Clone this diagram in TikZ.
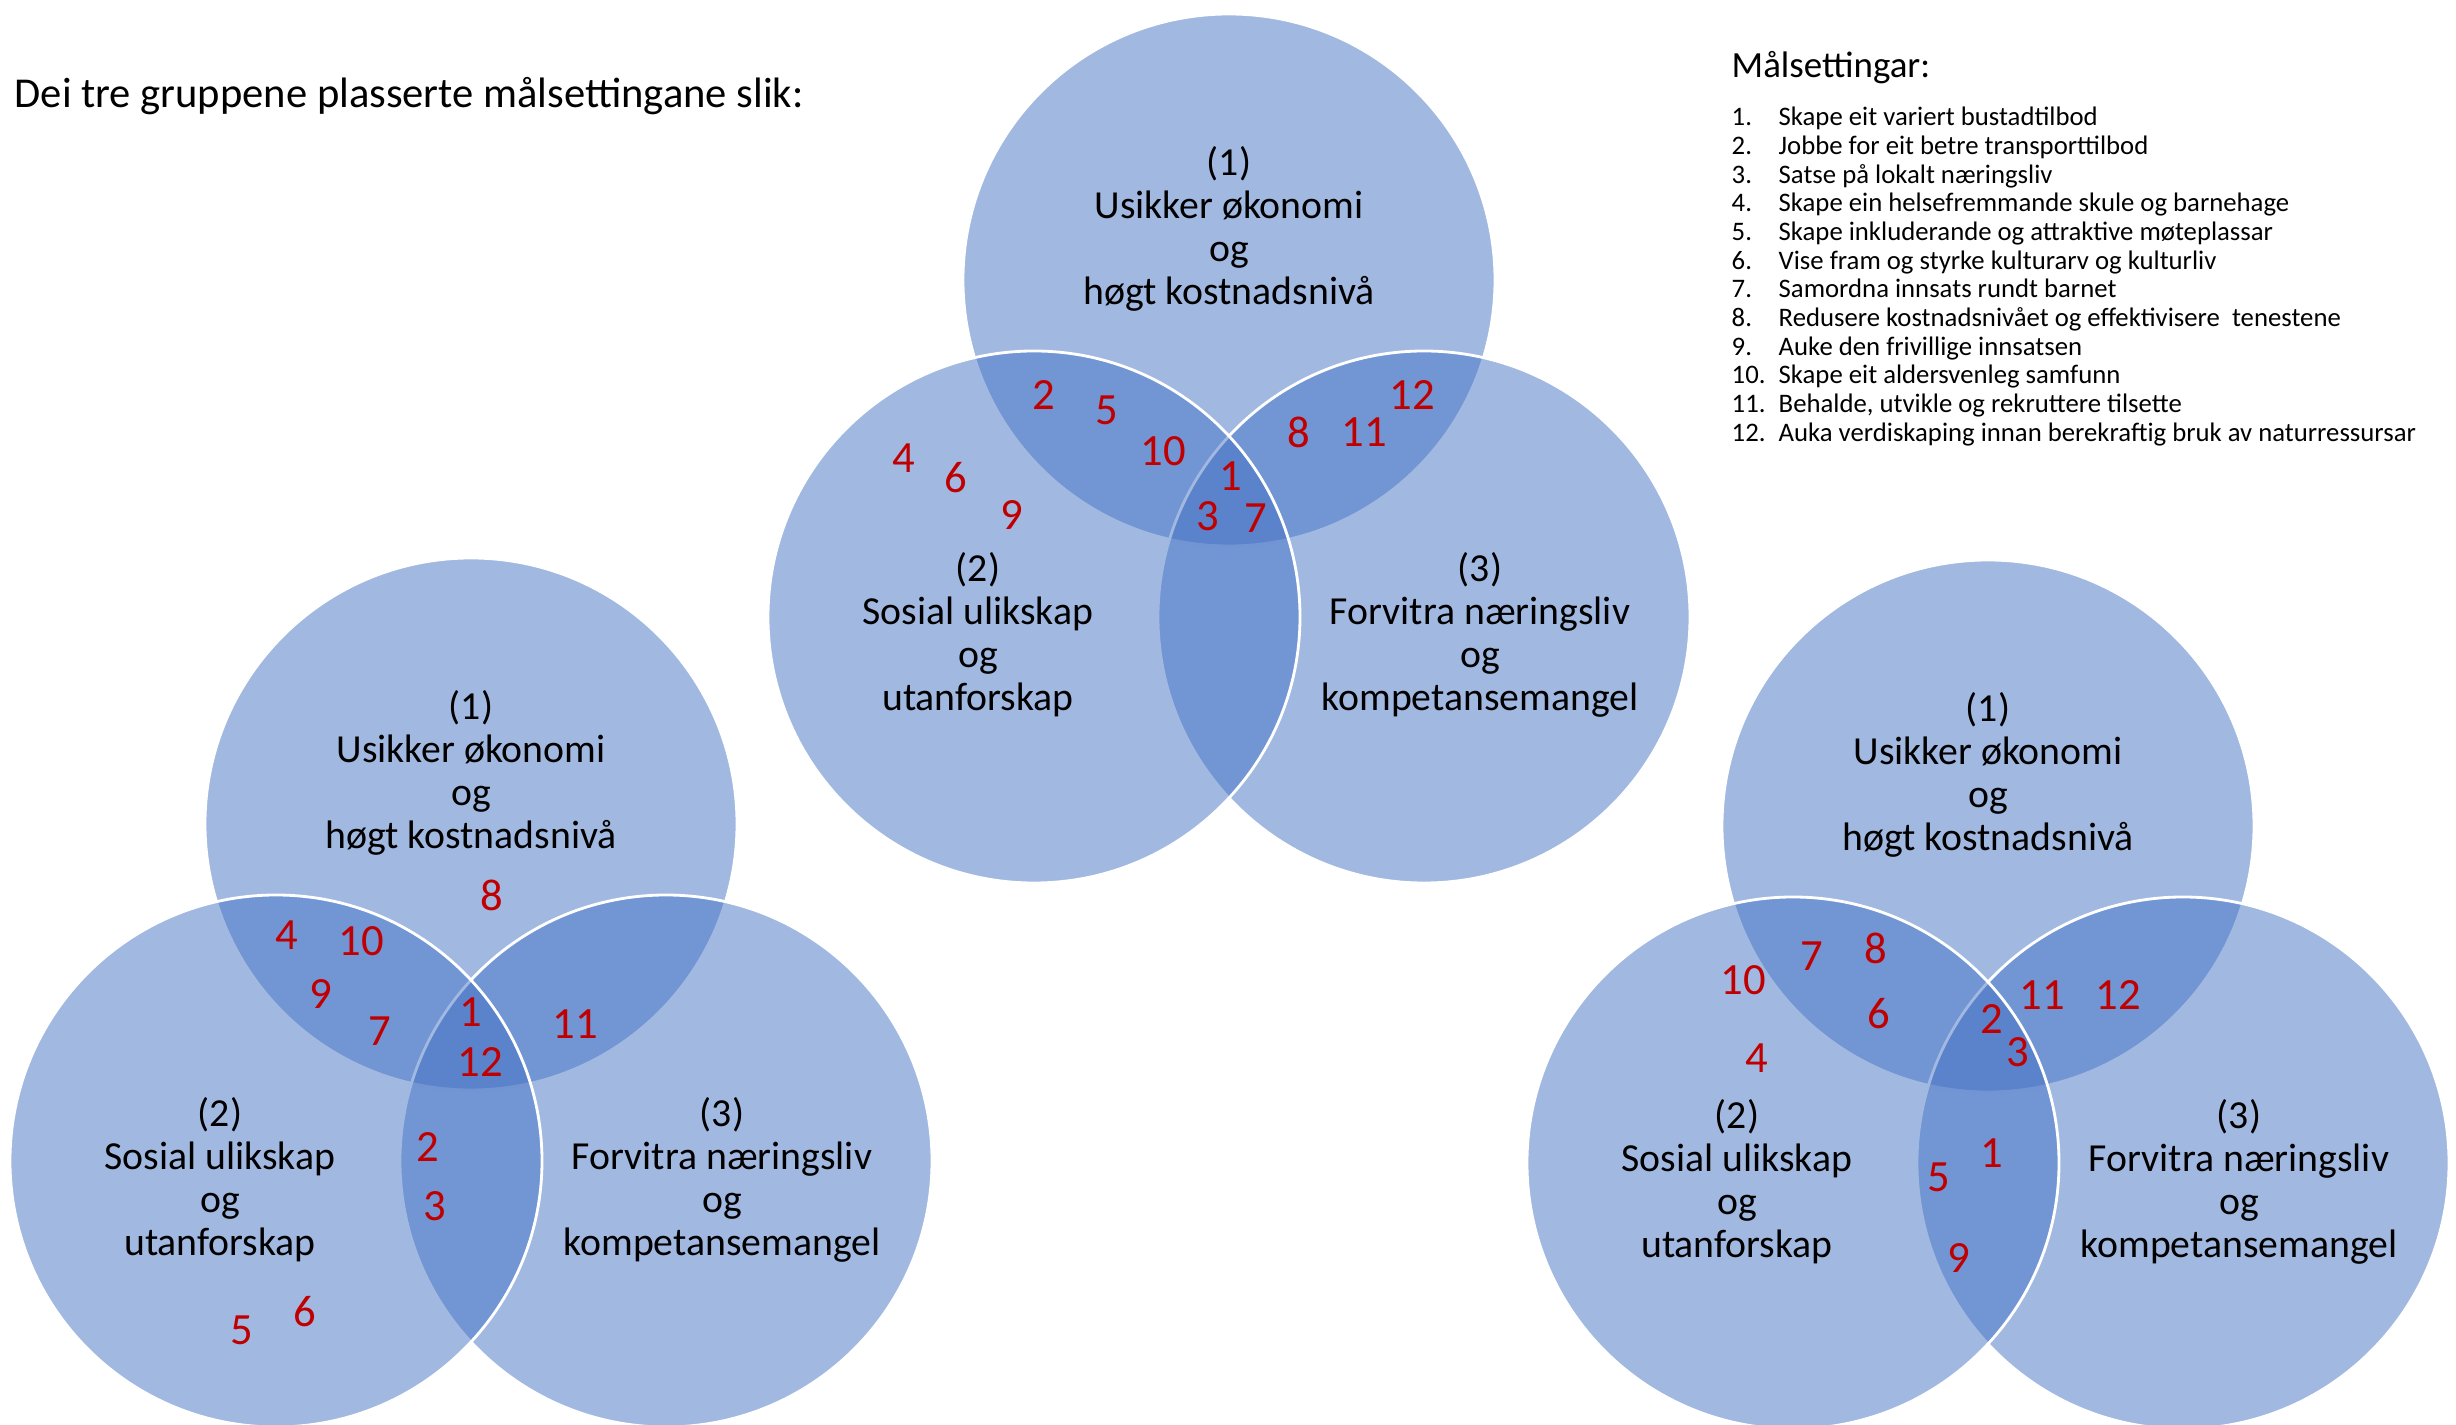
\documentclass[tikz,border=0pt]{standalone}
\usepackage{fontspec}
\setmainfont{Carlito}
\definecolor{vblue}{HTML}{4472C4}
\definecolor{numred}{HTML}{C00000}
\tikzset{
  venn/.style={fill=vblue, fill opacity=0.5, draw=white, line width=0.8pt},
  lab/.style={align=center, font=\fontsize{11.3}{12.2}\selectfont, inner sep=0pt},
  num/.style={text=numred, font=\fontsize{12.7}{14}\selectfont, inner sep=0pt},
  itemtxt/.style={anchor=base west, font=\fontsize{7.6}{8}\selectfont, inner sep=0pt}
}
\begin{document}
\begin{tikzpicture}[x=0.01cm,y=-0.01cm]
\useasboundingbox (0,0) rectangle (2456,1425);
\clip (0,0) rectangle (2456,1425);

% ---------- top Venn ----------
\draw[venn] (1229,280) circle[radius=266];
\draw[venn] (1424,617) circle[radius=266];
\draw[venn] (1034,617) circle[radius=266];
% ---------- bottom-left Venn ----------
\draw[venn] (471,824) circle[radius=266];
\draw[venn] (666,1161) circle[radius=266];
\draw[venn] (276,1161) circle[radius=266];
% ---------- bottom-right Venn ----------
\draw[venn] (1988,826) circle[radius=266];
\draw[venn] (2183,1163) circle[radius=266];
\draw[venn] (1793,1163) circle[radius=266];

% title and legend
\node[anchor=base west, font=\fontsize{12.1}{14}\selectfont, inner sep=0pt] (title) at (14,108) {Dei tre gruppene plasserte målsettingane slik:};
\node[anchor=base west, font=\fontsize{10.5}{12}\selectfont, inner sep=0pt] (head) at (1731,78) {Målsettingar:};

\node[itemtxt] (n1) at (1731,126) {1.};
\node[itemtxt] (t1) at (1778,126) {Skape eit variert bustadtilbod};
\node[itemtxt] (n2) at (1731,154.7) {2.};
\node[itemtxt] (t2) at (1778,154.7) {Jobbe for eit betre transporttilbod};
\node[itemtxt] (n3) at (1731,183.3) {3.};
\node[itemtxt] (t3) at (1778,183.3) {Satse på lokalt næringsliv};
\node[itemtxt] (n4) at (1731,212) {4.};
\node[itemtxt] (t4) at (1778,212) {Skape ein helsefremmande skule og barnehage};
\node[itemtxt] (n5) at (1731,240.7) {5.};
\node[itemtxt] (t5) at (1778,240.7) {Skape inkluderande og attraktive møteplassar};
\node[itemtxt] (n6) at (1731,269.3) {6.};
\node[itemtxt] (t6) at (1778,269.3) {Vise fram og styrke kulturarv og kulturliv};
\node[itemtxt] (n7) at (1731,298) {7.};
\node[itemtxt] (t7) at (1778,298) {Samordna innsats rundt barnet};
\node[itemtxt] (n8) at (1731,326.7) {8.};
\node[itemtxt] (t8) at (1778,326.7) {Redusere kostnadsnivået og effektivisere~ tenestene};
\node[itemtxt] (n9) at (1731,355.3) {9.};
\node[itemtxt] (t9) at (1778,355.3) {Auke den frivillige innsatsen};
\node[itemtxt] (n10) at (1731,384) {10.};
\node[itemtxt] (t10) at (1778,384) {Skape eit aldersvenleg samfunn};
\node[itemtxt] (n11) at (1731,412.7) {11.};
\node[itemtxt] (t11) at (1778,412.7) {Behalde, utvikle og rekruttere tilsette};
\node[itemtxt] (n12) at (1731,441.4) {12.};
\node[itemtxt] (t12) at (1778,441.4) {Auka verdiskaping innan berekraftig bruk av naturressursar};

% ---------- labels: top Venn ----------
\node[lab] (ta) at (1229,229) {(1)\\Usikker økonomi\\og\\høgt kostnadsnivå};
\node[lab] (tb) at (978,635) {(2)\\Sosial ulikskap\\og\\utanforskap};
\node[lab] (tc) at (1480,635) {(3)\\Forvitra næringsliv\\og\\kompetansemangel};
% ---------- labels: bottom-left ----------
\node[lab] (la) at (471,773) {(1)\\Usikker økonomi\\og\\høgt kostnadsnivå};
\node[lab] (lb) at (220,1180) {(2)\\Sosial ulikskap\\og\\utanforskap};
\node[lab] (lc) at (722,1180) {(3)\\Forvitra næringsliv\\og\\kompetansemangel};
% ---------- labels: bottom-right ----------
\node[lab] (ra) at (1988,775) {(1)\\Usikker økonomi\\og\\høgt kostnadsnivå};
\node[lab] (rb) at (1737,1182) {(2)\\Sosial ulikskap\\og\\utanforskap};
\node[lab] (rc) at (2239,1182) {(3)\\Forvitra næringsliv\\og\\kompetansemangel};

% ---------- numbers: top Venn ----------
\node[num] (tn2) at (1044,395) {2};
\node[num] (tn5) at (1107,410) {5};
\node[num] (tn10) at (1163,451) {10};
\node[num] (tn4) at (904,458) {4};
\node[num] (tn6) at (956,478) {6};
\node[num] (tn9) at (1012,515) {9};
\node[num] (tn1) at (1231,476) {1};
\node[num] (tn3) at (1208,516) {3};
\node[num] (tn7) at (1256,518) {7};
\node[num] (tn8) at (1299,432) {8};
\node[num] (tn11) at (1364,432) {11};
\node[num] (tn12) at (1412,395) {12};
% ---------- numbers: bottom-left ----------
\node[num] (ln8) at (492,895) {8};
\node[num] (ln4) at (287,935) {4};
\node[num] (ln10) at (361,941) {10};
\node[num] (ln9) at (321,994) {9};
\node[num] (ln7) at (380,1031) {7};
\node[num] (ln1) at (471,1012) {1};
\node[num] (ln12) at (480,1062) {12};
\node[num] (ln11) at (575,1024) {11};
\node[num] (ln2) at (428,1147) {2};
\node[num] (ln3) at (435,1206) {3};
\node[num] (ln5) at (242,1330) {5};
\node[num] (ln6) at (305,1312) {6};
% ---------- numbers: bottom-right ----------
\node[num] (rn10) at (1743,980) {10};
\node[num] (rn7) at (1812,956) {7};
\node[num] (rn8) at (1876,948) {8};
\node[num] (rn6) at (1879,1014) {6};
\node[num] (rn4) at (1757,1058) {4};
\node[num] (rn2) at (1992,1019) {2};
\node[num] (rn3) at (2018,1052) {3};
\node[num] (rn11) at (2042,995) {11};
\node[num] (rn12) at (2118,995) {12};
\node[num] (rn1) at (1992,1153) {1};
\node[num] (rn5) at (1939,1177) {5};
\node[num] (rn9) at (1959,1258) {9};
\end{tikzpicture}
\end{document}
